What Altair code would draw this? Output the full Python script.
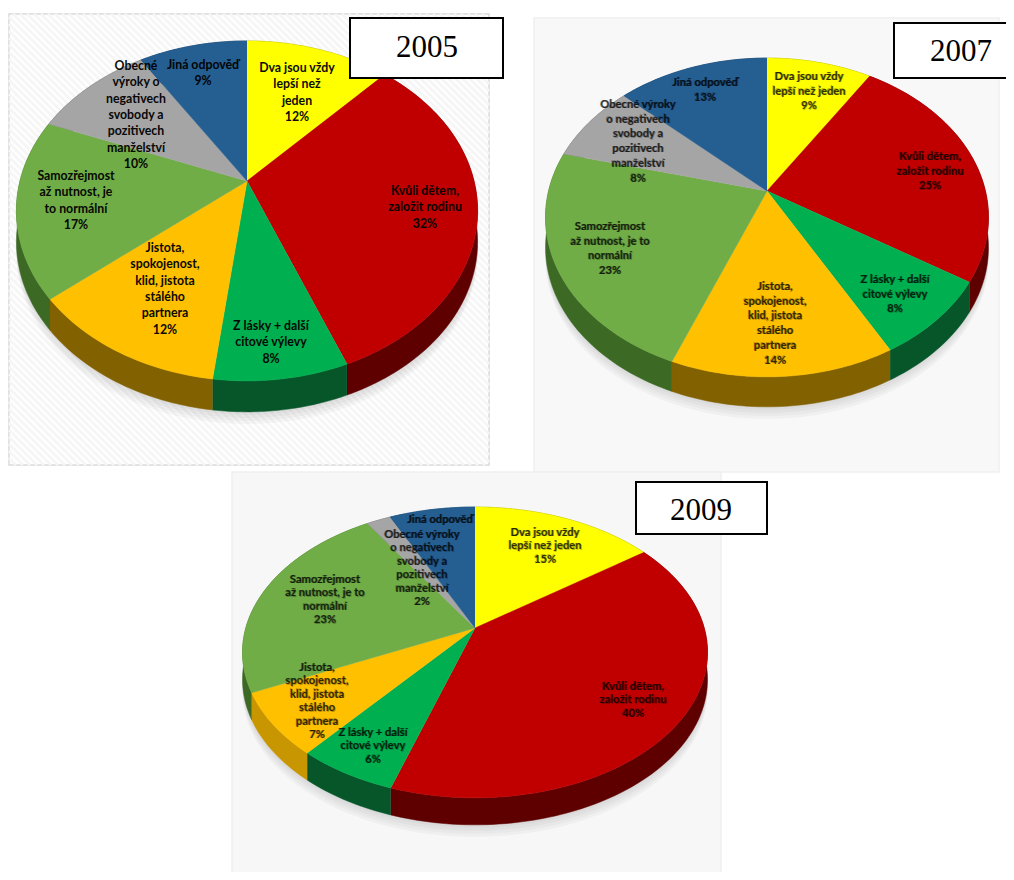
import numpy as np
import pandas as pd
import altair as alt

# ---------- chart values ----------
categories = ["Dva jsou vždy lepší než jeden", "Kvůli dětem, založit rodinu", "Z lásky + další citové výlevy",
              "Jistota, spokojenost, klid, jistota stálého partnera", "Samozřejmost až nutnost, je to normální",
              "Obecné výroky o negativech svobody a pozitivech manželství", "Jiná odpověď"]
years = ["2005", "2007", "2009"]
shares_2005 = [12, 32, 8, 12, 17, 10, 9]
shares_2007 = [9, 25, 8, 14, 23, 8, 13]
shares_2009 = [15, 40, 6, 7, 23, 2, 7]
top_colors = ["#FFFF00", "#C00000", "#00B050", "#FFC000", "#70AD47", "#A5A5A5", "#255E91"]
side_colors = ["#808000", "#5E0000", "#06562A", "#826100", "#3C6A24", "#555555", "#123050"]
side_colors_2009 = ["#808000", "#5E0000", "#06562A", "#C89600", "#3C6A24", "#555555", "#123050"]

labels_2005 = ["Dva jsou vždy\nlepší než\njeden\n12%", "Kvůli dětem,\nzaložit rodinu\n32%",
               "Z lásky + další\ncitové výlevy\n8%", "Jistota,\nspokojenost,\nklid, jistota\nstálého\npartnera\n12%",
               "Samozřejmost\naž nutnost, je\nto normální\n17%",
               "Obecné\nvýroky o\nnegativech\nsvobody a\npozitivech\nmanželství\n10%", "Jiná odpověď\n9%"]
labels_2007 = ["Dva jsou vždy\nlepší než jeden\n9%", "Kvůli dětem,\nzaložit rodinu\n25%",
               "Z lásky + další\ncitové výlevy\n8%", "Jistota,\nspokojenost,\nklid, jistota\nstálého\npartnera\n14%",
               "Samozřejmost\naž nutnost, je to\nnormální\n23%",
               "Obecné výroky\no negativech\nsvobody a\npozitivech\nmanželství\n8%", "Jiná odpověď\n13%"]
labels_2009 = ["Dva jsou vždy\nlepší než jeden\n15%", "Kvůli dětem,\nzaložit rodinu\n40%",
               "Z lásky + další\ncitové výlevy\n6%", "Jistota,\nspokojenost,\nklid, jistota\nstálého\npartnera\n7%",
               "Samozřejmost\naž nutnost, je to\nnormální\n23%",
               "Obecné výroky\no negativech\nsvobody a\npozitivech\nmanželství\n2%", "Jiná odpověď"]

# ---------- layout (page pixels) ----------
pies = {
    "2005": dict(shares=shares_2005, labels=labels_2005, sides=side_colors, hub=(247, 181), A=227, B=164.7, p=0.176, depth=31,
                 pos=[(297, 68), (425, 191), (271, 326), (165, 248), (76, 176), (136, 66), (203, 65)],
                 size=12.3, lh=16.3, opacity=0.95, blur=False, panel=(9, 14, 489, 465), box=(350, 18, 503, 78), year=(427, 48)),
    "2007": dict(shares=shares_2007, labels=labels_2007, sides=side_colors, hub=(767, 191), A=218.4, B=155, p=0.166, depth=30,
                 pos=[(809, 77), (930, 157), (895, 280), (775, 287), (610, 227), (638, 105), (705, 83)],
                 size=11.2, lh=14.7, opacity=0.7, blur=True, panel=(534, 18, 999, 472), box=(894, 23, 1020, 78), year=(961, 52)),
    "2009": dict(shares=shares_2009, labels=labels_2009, sides=side_colors_2009, hub=(475, 628), A=229.2, B=141.3, p=0.168, depth=27,
                 pos=[(545, 533), (633, 687), (373, 733), (317, 668), (325, 580), (422, 535), (440, 520)],
                 size=11.2, lh=13.4, opacity=0.7, blur=True, panel=(232, 472, 721, 886), box=(636, 482, 767, 534), year=(701, 511)),
}
W, H = 998, 864
X0, Y0 = 8, 8


def project(cfg, pct):
    t = np.radians(np.asarray(pct, dtype=float) * 3.6)
    u, v = np.sin(t), np.cos(t)
    d = 1 + cfg["p"] * v
    hx, hy = cfg["hub"]
    return hx + cfg["A"] * u / d, hy - cfg["B"] * v / d


rows_shadow, rows_side, rows_top, rows_text, rows_panel, rows_box, rows_year, rows_hatch = [], [], [], [], [], [], [], []
for year, cfg in pies.items():
    # whole-pie soft shadow
    sx, sy = project(cfg, np.linspace(0, 100, 181))
    for k, off in enumerate([3, 6, 9, 12]):
        for i, (a, b) in enumerate(zip(sx, sy)):
            rows_shadow.append(dict(g=f"{year}-s{k}", i=i, x=a, y=b + cfg["depth"] + off))
    start = 0
    for s, share in enumerate(cfg["shares"]):
        grid = np.linspace(start, start + share, max(int(share) * 3, 6))
        ax, ay = project(cfg, grid)
        path = [(a, b + cfg["depth"]) for a, b in zip(ax, ay)] + [(a, b) for a, b in zip(ax[::-1], ay[::-1])]
        for i, (a, b) in enumerate(path):
            rows_side.append(dict(g=f"{year}-{s}", i=i, x=a, y=b, c=cfg["sides"][s]))
        path = [cfg["hub"]] + list(zip(ax, ay))
        for i, (a, b) in enumerate(path):
            rows_top.append(dict(g=f"{year}-{s}", i=i, x=a, y=b, c=top_colors[s]))
        rows_text.append(dict(g=year, x=cfg["pos"][s][0], y=cfg["pos"][s][1], t=cfg["labels"][s]))
        start += share
    x1, y1, x2, y2 = cfg["panel"]
    rows_panel.append(dict(x=x1, y=y1, x2=x2, y2=y2, year=year))
    b = cfg["box"]
    rows_box.append(dict(x=b[0], y=b[1], x2=b[2], y2=b[3]))
    rows_year.append(dict(x=cfg["year"][0], y=cfg["year"][1], t=year))

# faint diagonal hatch of the first panel
x1, y1, x2, y2 = pies["2005"]["panel"]
for c in np.arange(y1 - x2, y2 - x1, 7.0):
    ax = max(x1, y1 - c)
    bx = min(x2, y2 - c)
    if bx > ax:
        rows_hatch.append(dict(x=ax, y=ax + c, x2=bx, y2=bx + c))

xs = alt.Scale(domain=[X0, X0 + W], range=[0, W], nice=False, zero=False)
ys = alt.Scale(domain=[Y0, Y0 + H], range=[0, H], nice=False, zero=False)
X = alt.X("x:Q", scale=xs, axis=None)
Y = alt.Y("y:Q", scale=ys, axis=None)

panel = alt.Chart(alt.Data(values=rows_panel)).mark_rect(strokeWidth=1.5).encode(
    x=X, y=Y, x2="x2:Q", y2="y2:Q",
    fill=alt.Fill("year:N", legend=None, scale=alt.Scale(domain=years, range=["#FFFFFF", "#F8F8F9", "#F7F7F8"])),
    stroke=alt.Stroke("year:N", legend=None, scale=alt.Scale(domain=years, range=["#DADADA", "#F0F0F0", "#EFEFEF"])),
)
hatch = alt.Chart(alt.Data(values=rows_hatch)).mark_rule(color="#F6F6F6", strokeWidth=3).encode(
    x=X, y=Y, x2="x2:Q", y2="y2:Q")
shadow = alt.Chart(alt.Data(values=rows_shadow)).mark_line(filled=True, color="#888888", opacity=0.07).encode(
    x=X, y=Y, detail="g:N", order="i:Q")
side = alt.Chart(alt.Data(values=rows_side)).mark_line(filled=True, strokeWidth=0.5, interpolate="linear").encode(
    x=X, y=Y, detail="g:N", order="i:Q",
    fill=alt.Fill("c:N", scale=None), stroke=alt.Stroke("c:N", scale=None))
top = alt.Chart(alt.Data(values=rows_top)).mark_line(filled=True, strokeWidth=0.5, interpolate="linear").encode(
    x=X, y=Y, detail="g:N", order="i:Q",
    fill=alt.Fill("c:N", scale=None), stroke=alt.Stroke("c:N", scale=None))

text_layers = []
for year in years:
    cfg = pies[year]
    rows = [r for r in rows_text if r["g"] == year]
    style = dict(font="Lato", fontWeight="bold", fontSize=cfg["size"], lineBreak="\n", lineHeight=cfg["lh"],
                 baseline="middle", align="center", color="#000000")
    text_layers.append(alt.Chart(alt.Data(values=rows)).mark_text(opacity=cfg["opacity"], **style).encode(
        x=X, y=Y, text="t:N"))
    if cfg["blur"]:
        # the small labels of the later charts are soft in the reference
        for off in (-0.7, 0.7):
            text_layers.append(alt.Chart(alt.Data(values=rows)).mark_text(opacity=0.25, dx=off, dy=off / 2, **style).encode(
                x=X, y=Y, text="t:N"))

box = alt.Chart(alt.Data(values=rows_box)).mark_rect(fill="#FFFFFF", stroke="#000000", strokeWidth=2).encode(
    x=X, y=Y, x2="x2:Q", y2="y2:Q")
year_text = alt.Chart(alt.Data(values=rows_year)).mark_text(
    font="Liberation Serif", fontSize=31, baseline="middle", align="center", color="#000000"
).encode(x=X, y=Y, text="t:N")

chart = alt.layer(panel, hatch, shadow, side, top, *text_layers, box, year_text).properties(
    width=W, height=H, padding=0, background="#FFFFFF", autosize=alt.AutoSizeParams(type="none")
).configure_view(stroke=None)

chart.save("out.html", embed_options={"renderer": "svg", "actions": False})
